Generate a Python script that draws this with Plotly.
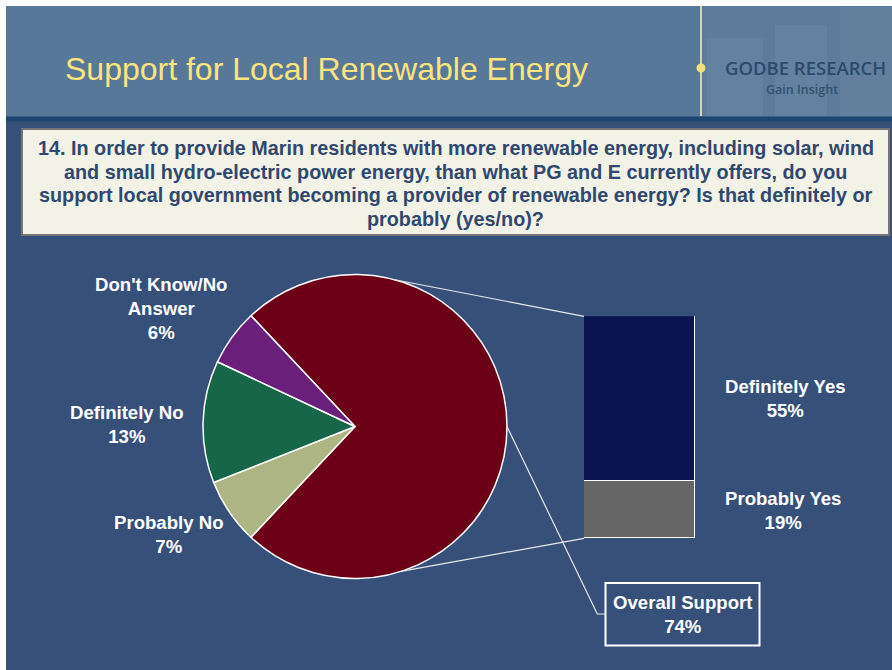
import math
import plotly.graph_objects as go

W, H = 892, 670

# ---------------- data ----------------
title_text = "Support for Local Renewable Energy"
question_lines = [
    "14. In order to provide Marin residents with more renewable energy, including solar, wind",
    "and small hydro-electric power energy, than what PG and E currently offers, do you",
    "support local government becoming a provider of renewable energy? Is that definitely or",
    "probably (yes/no)?",
]
pie_labels = ["Overall Support", "Probably No", "Definitely No", "Don't Know/No Answer"]
pie_values = [74, 7, 13, 6]
pie_display = ["Overall Support", "Probably No", "Definitely No", "Don't Know/No<br>Answer"]
support_labels = ["Probably Yes", "Definitely Yes"]
support_values = [19, 55]
overall_label = "Overall Support"
brand_name = "GODBE RESEARCH"
brand_tag = "Gain Insight"

# ---------------- styles ----------------
pie_colors = ["#6c0016", "#adb584", "#17664a", "#6a1f7a"]
bar_colors = ["#666666", "#0a1450"]
BG = "#36507a"
HEADER = "#58789a"
FONT = "Liberation Sans, Arial, sans-serif"


def px(x):
    return x / W


def py(y):
    return 1 - y / H


# geometry (reference pixels)
slide_x0, slide_y0 = 6, 6
pie_cx, pie_cy, pie_r = 355, 426.5, 152
bar_x0, bar_x1 = 584, 695
bar_bottom = 538.3
px_per_pct = 3.0
total_support = sum(support_values)
bar_top = bar_bottom - total_support * px_per_pct

fig = go.Figure()

rotation = 90 - pie_values[0] / sum(pie_values) * 360 / 2
fig.add_trace(go.Pie(
    labels=pie_labels, values=pie_values, sort=False, direction="clockwise",
    rotation=rotation, textinfo="none", hoverinfo="label+percent",
    marker=dict(colors=pie_colors, line=dict(color="white", width=1.5)),
    domain=dict(x=[px(pie_cx - pie_r), px(pie_cx + pie_r)],
                y=[py(pie_cy + pie_r), py(pie_cy - pie_r)]),
    showlegend=False,
))

for lab, val, col in zip(support_labels, support_values, bar_colors):
    fig.add_trace(go.Bar(
        x=["Support"], y=[val], name=lab, width=1,
        marker=dict(color=col, line=dict(color="white", width=1.5)),
        showlegend=False, hoverinfo="name+y",
    ))

shapes = []
# slide background
shapes.append(dict(type="rect", xref="paper", yref="paper", x0=px(slide_x0), x1=1, y0=0, y1=py(slide_y0),
                   fillcolor=BG, line=dict(width=0), layer="below"))
# header
shapes.append(dict(type="rect", xref="paper", yref="paper", x0=px(slide_x0), x1=1, y0=py(117), y1=py(slide_y0),
                   fillcolor=HEADER, line=dict(width=0), layer="below"))
# header right image area (faint buildings)
for (x0, x1, y0, op) in [(703, 892, 6, 0.04), (707, 763, 38, 0.05), (775, 827, 25, 0.05), (840, 892, 7, 0.04)]:
    shapes.append(dict(type="rect", xref="paper", yref="paper", x0=px(x0), x1=px(x1), y0=py(117), y1=py(y0),
                       fillcolor=f"rgba(220,230,240,{op})", line=dict(width=0), layer="below"))
# dark band under header
shapes.append(dict(type="rect", xref="paper", yref="paper", x0=px(slide_x0), x1=1, y0=py(121.5), y1=py(116.5),
                   fillcolor="#1d4770", line=dict(width=0), layer="below"))
# vertical line + dot in logo area
shapes.append(dict(type="line", xref="paper", yref="paper", x0=px(701), x1=px(701), y0=py(116), y1=py(slide_y0),
                   line=dict(color="#d6d4b0", width=2), layer="below"))
shapes.append(dict(type="circle", xref="paper", yref="paper", x0=px(696.5), x1=px(705.5), y0=py(72.5), y1=py(63.5),
                   fillcolor="#f1e07c", line=dict(width=0), layer="below"))
# question box
shapes.append(dict(type="rect", xref="paper", yref="paper", x0=px(22), x1=px(889), y0=py(235), y1=py(129),
                   fillcolor="#f2f2e6", line=dict(color="#767676", width=2), layer="below"))


def circle_pt(angle_deg):
    a = math.radians(angle_deg)
    return pie_cx + pie_r * math.sin(a), pie_cy - pie_r * math.cos(a)


# connector lines pie -> bar
tx, ty = circle_pt(14.7)
bx, by = circle_pt(162.4)
shapes.append(dict(type="line", xref="paper", yref="paper", x0=px(tx), y0=py(ty), x1=px(bar_x0), y1=py(bar_top),
                   line=dict(color="#e8e8e8", width=1.2), layer="above"))
shapes.append(dict(type="line", xref="paper", yref="paper", x0=px(bx), y0=py(by), x1=px(bar_x0), y1=py(bar_bottom),
                   line=dict(color="#e8e8e8", width=1.2), layer="above"))
# overall support callout
rx, ry = circle_pt(90)
box_x0, box_x1, box_y0, box_y1 = 605.5, 759.5, 583, 645.5
shapes.append(dict(type="path", xref="paper", yref="paper",
                   path=f"M {px(rx)} {py(ry)} L {px(597.3)} {py(614)} L {px(box_x0)} {py(614)}",
                   line=dict(color="#e8e8e8", width=1.2), layer="above"))
shapes.append(dict(type="rect", xref="paper", yref="paper", x0=px(box_x0), x1=px(box_x1), y0=py(box_y1), y1=py(box_y0),
                   fillcolor=BG, line=dict(color="white", width=2), layer="above"))

annotations = []


def ann(x, y, text, size, color="white", weight="bold", family=FONT, xanchor="center"):
    annotations.append(dict(x=px(x), y=py(y), xref="paper", yref="paper", text=text, showarrow=False,
                            xanchor=xanchor, yanchor="middle", align="center",
                            font=dict(family=family, size=size, color=color, weight=weight)))


ann(63, 69, title_text, 32, color="#fde47c", weight="normal", xanchor="left")
ann(805.5, 68, brand_name, 18.5, color="#2c4a6c", weight=600, family="Open Sans, sans-serif")
ann(802, 89.5, brand_tag, 12.5, color="#33506e", weight=600, family="Open Sans, sans-serif")
for line, yy in zip(question_lines, [147.7, 171.7, 195.3, 219.0]):
    ann(455.5, yy, line, 19.8, color="#30486f")

pie_pos = {"Probably No": (169, 534.5), "Definitely No": (127, 424), "Don't Know/No Answer": (161, 309)}
for lab, disp, val in zip(pie_labels, pie_display, pie_values):
    if lab in pie_pos:
        x, y = pie_pos[lab]
        ann(x, y, f"{disp}<br>{val}%", 18.6)

bar_lab_pos = {"Definitely Yes": (785, 398.5), "Probably Yes": (783, 510)}
for lab, val in zip(support_labels, support_values):
    x, y = bar_lab_pos[lab]
    ann(x, y, f"{lab}<br>{val}%", 18.6)

ann((box_x0 + box_x1) / 2, 614, f"{overall_label}<br>{total_support}%", 18.6)

fig.update_layout(
    width=W, height=H, margin=dict(l=0, r=0, t=0, b=0),
    paper_bgcolor="white", plot_bgcolor="rgba(0,0,0,0)",
    barmode="stack", bargap=0,
    xaxis=dict(domain=[px(bar_x0), px(bar_x1)], range=[-0.5, 0.5], visible=False, fixedrange=True),
    yaxis=dict(domain=[py(bar_bottom), py(bar_top)], range=[0, total_support], visible=False, fixedrange=True),
    shapes=shapes, annotations=annotations,
)

fig.write_html("out.html", config={"displayModeBar": False},
               post_script="document.body.style.margin='0px';document.body.style.overflow='hidden';")
